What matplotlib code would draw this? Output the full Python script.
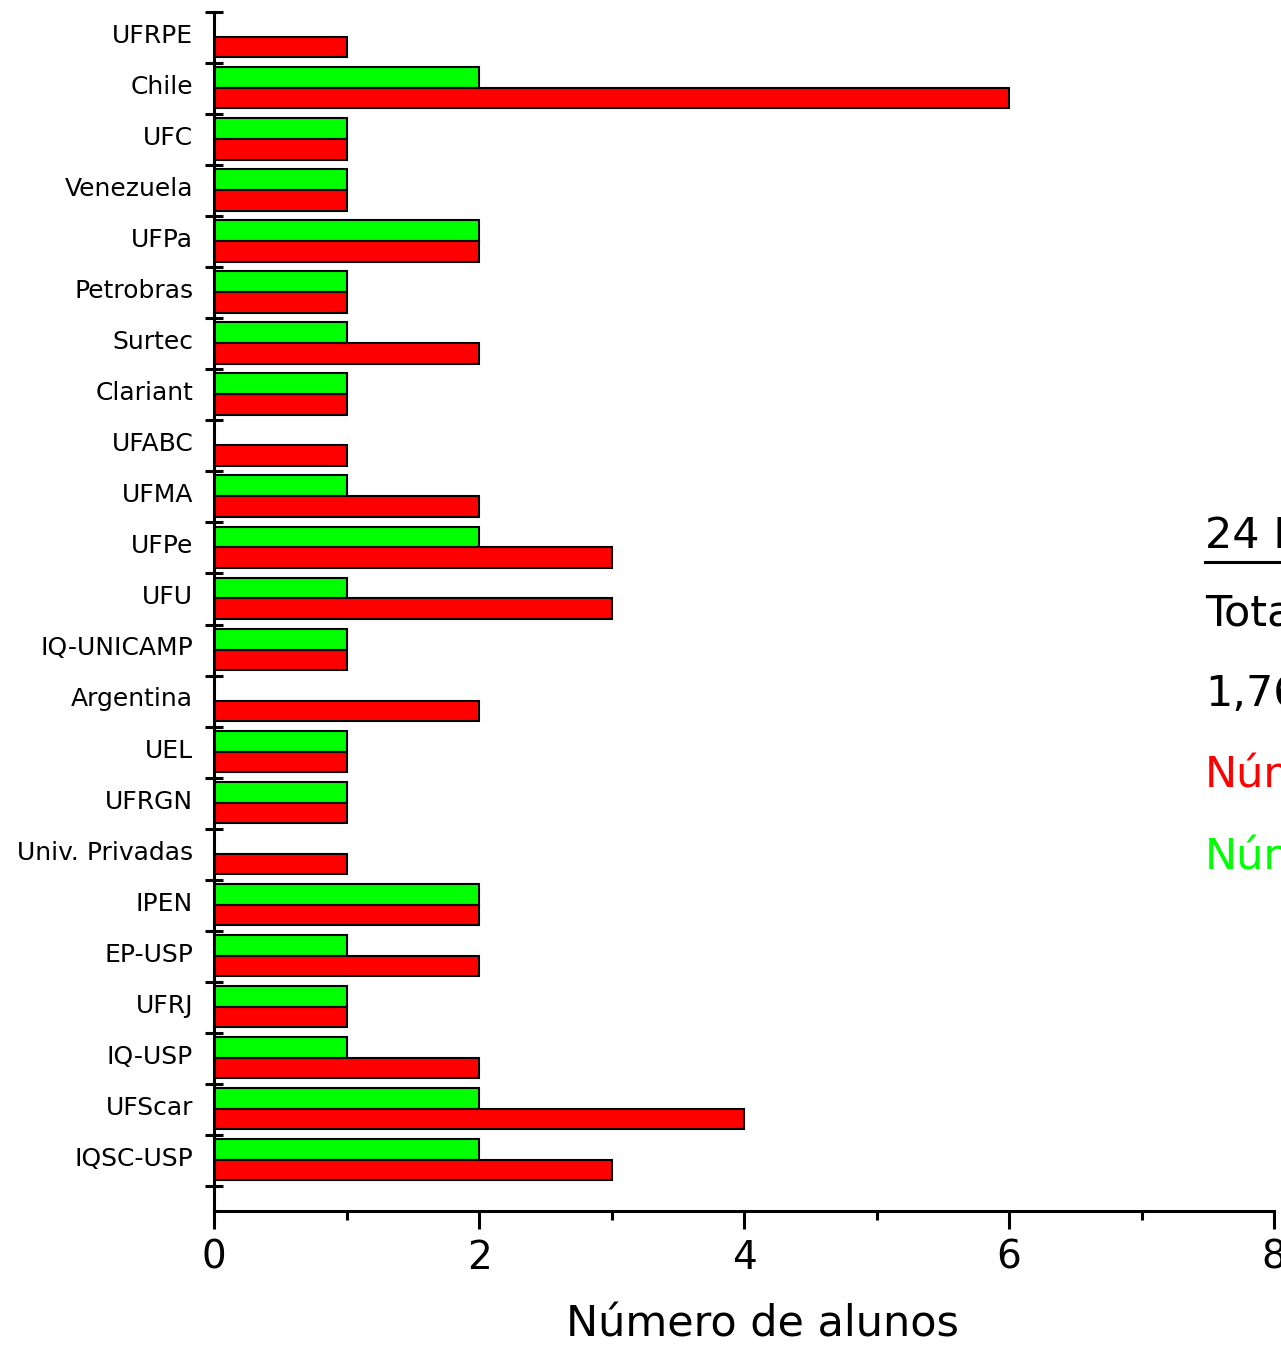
import matplotlib
matplotlib.use("Agg")
import matplotlib.pyplot as plt
from matplotlib.lines import Line2D
import numpy as np

categorias = ["UFRPE", "Chile", "UFC", "Venezuela", "UFPa", "Petrobras", "Surtec",
              "Clariant", "UFABC", "UFMA", "UFPe", "UFU", "IQ-UNICAMP", "Argentina",
              "UEL", "UFRGN", "Univ. Privadas", "IPEN", "EP-USP", "UFRJ", "IQ-USP",
              "UFScar", "IQSC-USP"]
verde = [0, 2, 1, 1, 2, 1, 1, 1, 0, 1, 2, 1, 1, 0, 1, 1, 0, 2, 1, 1, 1, 2, 2]
vermelho = [1, 6, 1, 1, 2, 1, 2, 1, 1, 2, 3, 3, 1, 2, 1, 1, 1, 2, 2, 1, 2, 4, 3]
xticks = [0, 2, 4, 6, 8]
textos_dir = ["24 Instituições", "Total", "1,76", "Número", "Número"]

W, H = 1281, 1346
fig = plt.figure(figsize=(W / 100, H / 100), dpi=100)
ax = fig.add_axes([214 / W, 1 - 1211 / H, (1274 - 214) / W, (1211 - 12) / H])

pos = np.arange(len(categorias))
ax.barh(pos + 0.08, verde, height=0.41, align="edge", color="#00ff00",
        edgecolor="black", linewidth=1.5)
ax.barh(pos + 0.49, vermelho, height=0.40, align="edge", color="#ff0000",
        edgecolor="black", linewidth=1.5)

ax.set_xlim(0, 8)
ax.set_ylim(23.49, 0)

ax.spines["top"].set_visible(False)
ax.spines["right"].set_visible(False)
ax.spines["left"].set_linewidth(2.2)
ax.spines["bottom"].set_linewidth(2.2)

ax.set_xticks(xticks)
ax.set_xticks(np.arange(1, 8, 2), minor=True)
ax.set_xticklabels([str(v) for v in xticks], fontsize=28)
ax.tick_params(axis="x", which="major", direction="out", length=13, width=2.2, pad=7)
ax.tick_params(axis="x", which="minor", direction="out", length=6.5, width=2.2)

ax.set_yticks(np.arange(len(categorias) + 1))
ax.set_yticklabels([])
ax.set_yticks(pos + 0.42, minor=True)
ax.set_yticklabels(categorias, minor=True, fontsize=18)
ax.tick_params(axis="y", which="major", direction="inout", length=13, width=2.2)
ax.tick_params(axis="y", which="minor", length=0, pad=15)

ax.set_xlabel("Número de alunos", fontsize=31)
ax.xaxis.set_label_coords((762 - 214) / (1274 - 214), -0.077)

# texto à direita (cortado na borda como no original)
cores = ["black", "black", "black", "#ff0000", "#00ff00"]
ys = [536, 614, 694, 776, 858]
for t, c, y in zip(textos_dir, cores, ys):
    fig.text(1205 / W, 1 - y / H, t, color=c, fontsize=31, va="center", ha="left")
fig.add_artist(Line2D([1205 / W, 1.0], [1 - 562 / H, 1 - 562 / H], color="black",
                      linewidth=2.2, transform=fig.transFigure))

fig.savefig("out.png", dpi=100)
